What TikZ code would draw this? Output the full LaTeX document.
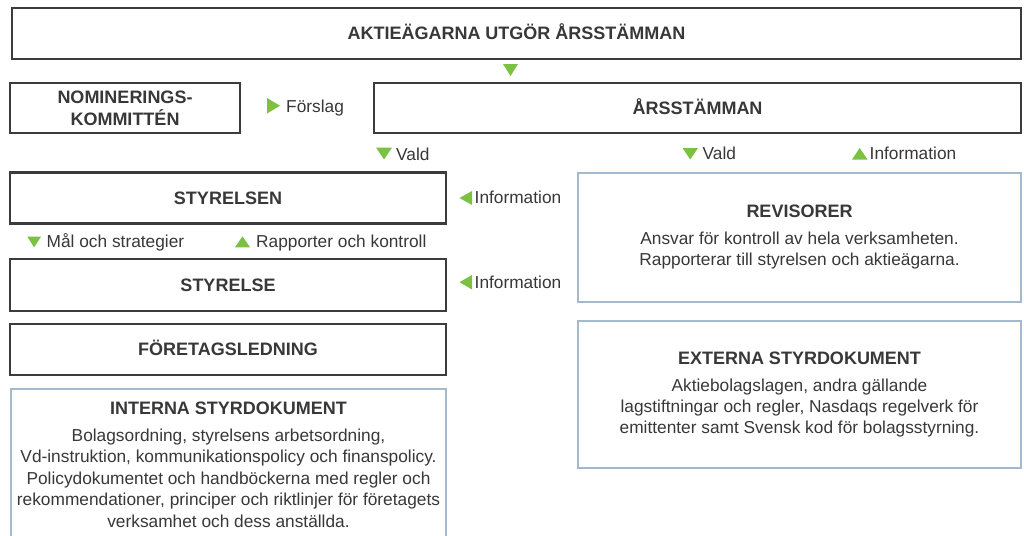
\documentclass[tikz,border=0pt]{standalone}
\usepackage{fontspec}
\setmainfont{Liberation Sans}
\definecolor{boxdark}{HTML}{3C3C3C}
\definecolor{boxblue}{HTML}{A5B9CD}
\definecolor{grn}{HTML}{7CC142}
\definecolor{txt}{HTML}{383838}
\tikzset{
  darkbox/.style={draw=boxdark, line width=2.5pt, rectangle, inner sep=0pt, outer sep=0pt,
    text=txt, font=\bfseries\fontsize{18}{22}\selectfont, text height=12.9pt, text depth=0pt},
  bluebox/.style={draw=boxblue, line width=2.5pt, rectangle, inner sep=0pt, outer sep=0pt},
  title/.style={anchor=base, inner sep=0pt, text=txt, font=\bfseries\fontsize{18}{22}\selectfont},
  body/.style={anchor=base, inner sep=0pt, text=txt, font=\fontsize{17.3}{21}\selectfont},
  lbl/.style={anchor=base west, inner sep=0pt, text=txt, font=\fontsize{17.3}{21}\selectfont},
  tri/.style={fill=grn, draw=none}
}
\begin{document}
\begin{tikzpicture}[x=1pt,y=-1pt]
\useasboundingbox[fill=white] (0,0) rectangle (1024,535);

% boxes
\node[darkbox, minimum width=1009pt, minimum height=51pt] (aktie) at (516.5,33.5) {AKTIEÄGARNA UTGÖR ÅRSSTÄMMAN};
\node[darkbox, minimum width=230pt, minimum height=50pt] (nom) at (125,108) {};
\node[title] (nom1) at (125,103) {NOMINERINGS-};
\node[title] (nom2) at (125,125) {KOMMITTÉN};
\node[darkbox, minimum width=647pt, minimum height=50pt] (ars) at (697.5,108) {ÅRSSTÄMMAN};
\node[darkbox, minimum width=436pt, minimum height=51pt] (styrelsen) at (228,198) {STYRELSEN};
\node[darkbox, minimum width=436pt, minimum height=52pt] (styrelse) at (228,285) {STYRELSE};
\node[darkbox, minimum width=436pt, minimum height=51pt] (ledning) at (228,349.5) {FÖRETAGSLEDNING};

\node[bluebox, minimum width=443pt, minimum height=129pt] (rev) at (799.5,237.5) {};
\node[title] (revt) at (799.5,217.5) {REVISORER};
\node[body] (rev1) at (799.5,244.5) {Ansvar för kontroll av hela verksamheten.};
\node[body] (rev2) at (799.5,265.5) {Rapporterar till styrelsen och aktieägarna.};

\node[bluebox, minimum width=443pt, minimum height=147pt] (ext) at (799.5,394.5) {};
\node[title] (extt) at (799.5,364) {EXTERNA STYRDOKUMENT};
\node[body] (ext1) at (799.5,391) {Aktiebolagslagen, andra gällande};
\node[body] (ext2) at (799.5,412) {lagstiftningar och regler, Nasdaqs regelverk för};
\node[body] (ext3) at (799.5,433) {emittenter samt Svensk kod för bolagsstyrning.};

\node[bluebox, minimum width=435pt, minimum height=180pt, anchor=north west] (int) at (11,389) {};
\node[title] (intt) at (228.5,414.5) {INTERNA STYRDOKUMENT};
\node[body] (int1) at (228.5,441) {Bolagsordning, styrelsens arbetsordning,};
\node[body] (int2) at (228.5,462.5) {Vd-instruktion, kommunikationspolicy och finanspolicy.};
\node[body] (int3) at (228.5,484) {Policydokumentet och handböckerna med regler och};
\node[body] (int4) at (228.5,505.5) {rekommendationer, principer och riktlinjer för företagets};
\node[body] (int5) at (228.5,527) {verksamhet och dess anställda.};

% labels
\node[lbl] (forslag) at (286,112.5) {Förslag};
\node[lbl] (vald1) at (396,160) {Vald};
\node[lbl] (vald2) at (702.5,159.5) {Vald};
\node[lbl] (info0) at (869.5,159.5) {Information};
\node[lbl] (info1) at (474.5,203.3) {Information};
\node[lbl] (info2) at (474.5,288.5) {Information};
\node[lbl] (mal) at (46.5,247.3) {Mål och strategier};
\node[lbl] (rapp) at (256,247.3) {Rapporter och kontroll};

% green triangles
\fill[tri] (503,64) -- (518,64) -- (510.5,76) -- cycle;
\fill[tri] (267,98) -- (267,113.5) -- (280,105.7) -- cycle;
\fill[tri] (376,147.5) -- (392,147.5) -- (384,159.5) -- cycle;
\fill[tri] (682.5,148) -- (698,148) -- (690.2,159.5) -- cycle;
\fill[tri] (852,159.5) -- (867.5,159.5) -- (859.7,148) -- cycle;
\fill[tri] (472,191) -- (472,205) -- (459.5,198) -- cycle;
\fill[tri] (472,275) -- (472,289.5) -- (459.5,282.2) -- cycle;
\fill[tri] (27.3,236.7) -- (41,236.7) -- (34.1,247.3) -- cycle;
\fill[tri] (235,247.3) -- (250,247.3) -- (242.5,236.3) -- cycle;
\end{tikzpicture}
\end{document}
